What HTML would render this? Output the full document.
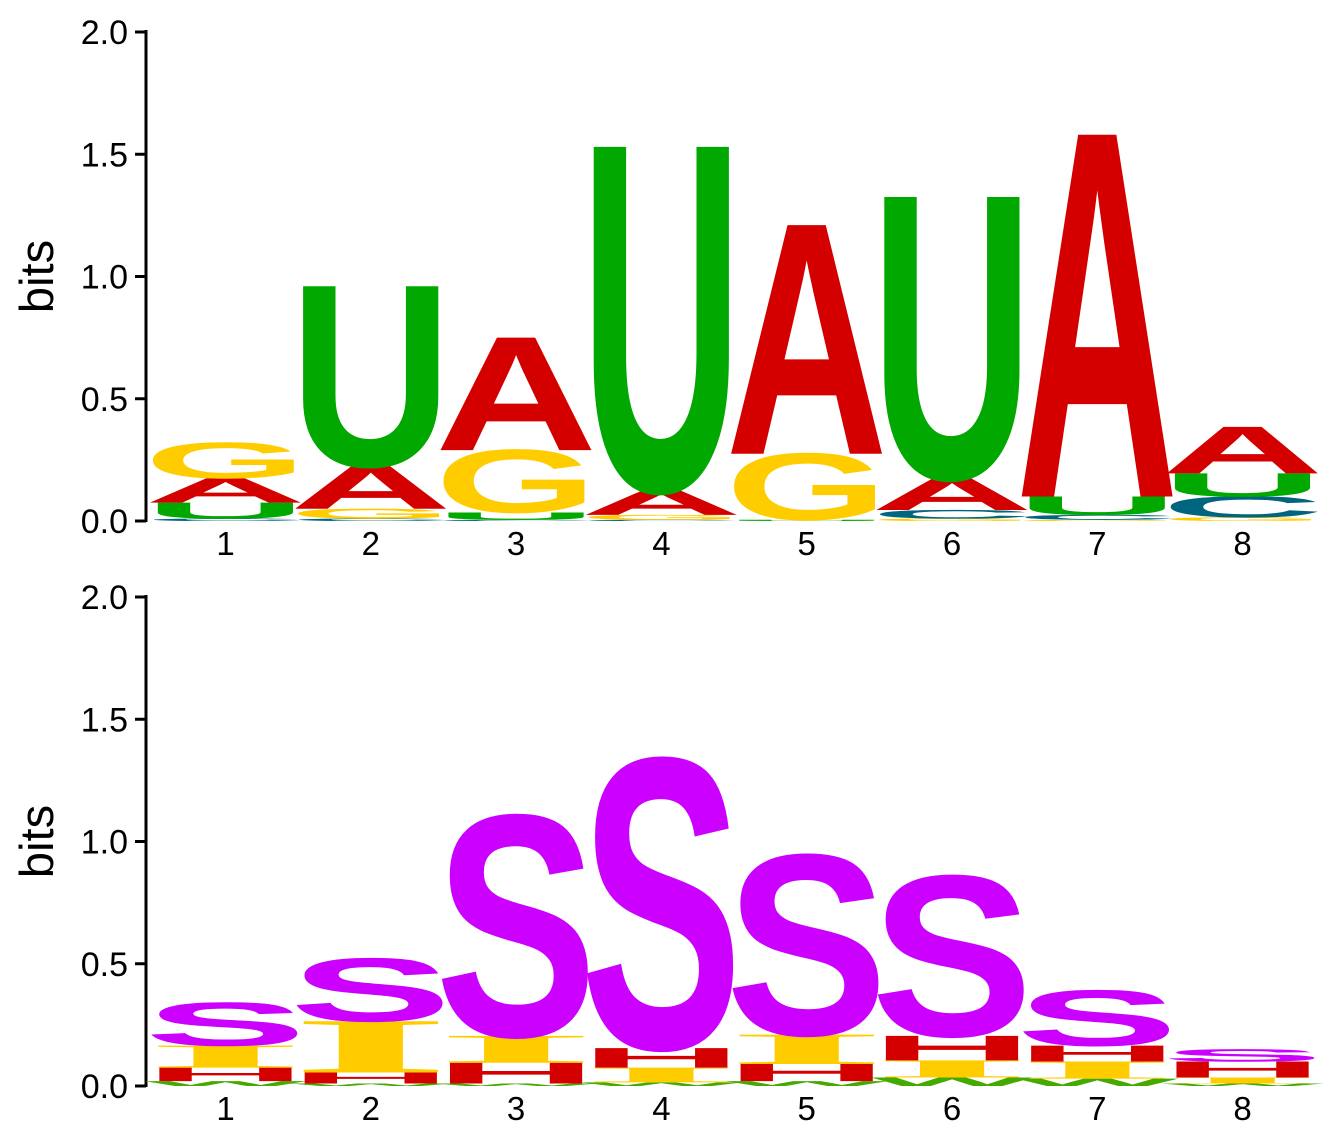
<!DOCTYPE html>
<html><head><meta charset="utf-8"><style>
html,body{margin:0;padding:0;background:#fff}
svg{display:block}
</style></head><body>
<svg id="chart" width="1339" height="1130" viewBox="0 0 1339 1130" xmlns="http://www.w3.org/2000/svg"></svg>
<script>
// Data: stacks per position, bottom to top, [letter, bits]
const positions = [1,2,3,4,5,6,7,8];
const yTicks = [0.0,0.5,1.0,1.5,2.0];
const yTickLabels = ["0.0","0.5","1.0","1.5","2.0"];
const topStacks = [
  [["C",0.01],["U",0.065],["A",0.1],["G",0.145]],
  [["C",0.01],["G",0.04],["A",0.175],["U",0.735]],
  [["C",0.005],["U",0.03],["G",0.255],["A",0.46]],
  [["C",0.005],["G",0.02],["A",0.1],["U",1.405]],
  [["U",0.005],["G",0.27],["A",0.935]],
  [["G",0.01],["C",0.035],["A",0.13],["U",1.15]],
  [["G",0.005],["C",0.02],["U",0.075],["A",1.48]],
  [["G",0.015],["C",0.085],["U",0.095],["A",0.19]]
];
const bottomStacks = [
  [["W",0.02],["H",0.055],["I",0.09],["S",0.175]],
  [["W",0.01],["H",0.045],["I",0.21],["S",0.255]],
  [["W",0.01],["H",0.085],["I",0.11],["S",0.895]],
  [["W",0.015],["I",0.06],["H",0.08],["S",1.175]],
  [["W",0.02],["H",0.07],["I",0.12],["S",0.73]],
  [["W",0.035],["I",0.07],["H",0.1],["S",0.65]],
  [["W",0.03],["I",0.07],["H",0.065],["S",0.225]],
  [["W",0.01],["I",0.025],["H",0.065],["S",0.05]]
];
const colors = {A:"#d40000",U:"#00a800",G:"#ffcc00",C:"#006680",S:"#cc00ff",H:"#d40000",I:"#ffcc00",W:"#44aa00"};

const NS="http://www.w3.org/2000/svg";
const svg=document.getElementById('chart');
const PX_PER_BIT=244.5;
const COL_LEFT=153, COL_STEP=145.3, COL_W=145;
function mk(tag,attrs,parent){const e=document.createElementNS(NS,tag);for(const k in attrs)e.setAttribute(k,attrs[k]);(parent||svg).appendChild(e);return e;}

function panel(stacks, y0, name){
  const g=mk('g',{});
  
  
  const yScale=v=>y0 - v*PX_PER_BIT;
  const xLeft=i=>COL_LEFT + i*COL_STEP;
  const ax=mk('line',{x1:146,x2:146,y1:yScale(2)-2,y2:y0+1,stroke:'#000','stroke-width':3},g);
  
  
  yTicks.forEach((t,k)=>{
    const tk=mk('line',{x1:135,x2:146,y1:yScale(t),y2:yScale(t),stroke:'#000','stroke-width':3},g);
    
    
    const tl=mk('text',{x:128,y:yScale(t)+12,'text-anchor':'end','font-family':'Liberation Sans, sans-serif','font-size':34},g);
    
    
    tl.textContent=yTickLabels[k];
  });
  const yt=mk('text',{transform:`translate(53,${yScale(1)}) rotate(-90)`,'text-anchor':'middle','font-family':'Liberation Sans, sans-serif','font-size':47},g);
  
  
  yt.textContent='bits';
  positions.forEach((p,i)=>{
    const xl=mk('text',{x:xLeft(i)+COL_W/2,y:y0+34,'text-anchor':'middle','font-family':'Liberation Sans, sans-serif','font-size':33},g);
    
    
    xl.textContent=String(p);
    let acc=0;
    stacks[i].forEach(([ch,h])=>{
      const yb=yScale(acc);
      const hp=h*PX_PER_BIT;
      acc+=h;
      if(hp<0.5) return;
      const serif = ch==='I';
      const cap = serif?65.5:68.8;
      const w=COL_W;
      const t=mk('text',{x:-w*0.06,y:0,textLength:w*1.12,lengthAdjust:'spacingAndGlyphs',
        transform:`translate(${xLeft(i)},${yb}) scale(1,${hp/cap})`,
        'font-family':serif?'Liberation Serif, serif':'Liberation Sans, sans-serif','font-weight':'bold','font-size':100,fill:colors[ch]},g);
      
      
      t.textContent=ch;
    });
  });
}
panel(topStacks,521,'nucleotide-logo-panel');
panel(bottomStacks,1086,'motif-logo-panel');
</script>
</body></html>
